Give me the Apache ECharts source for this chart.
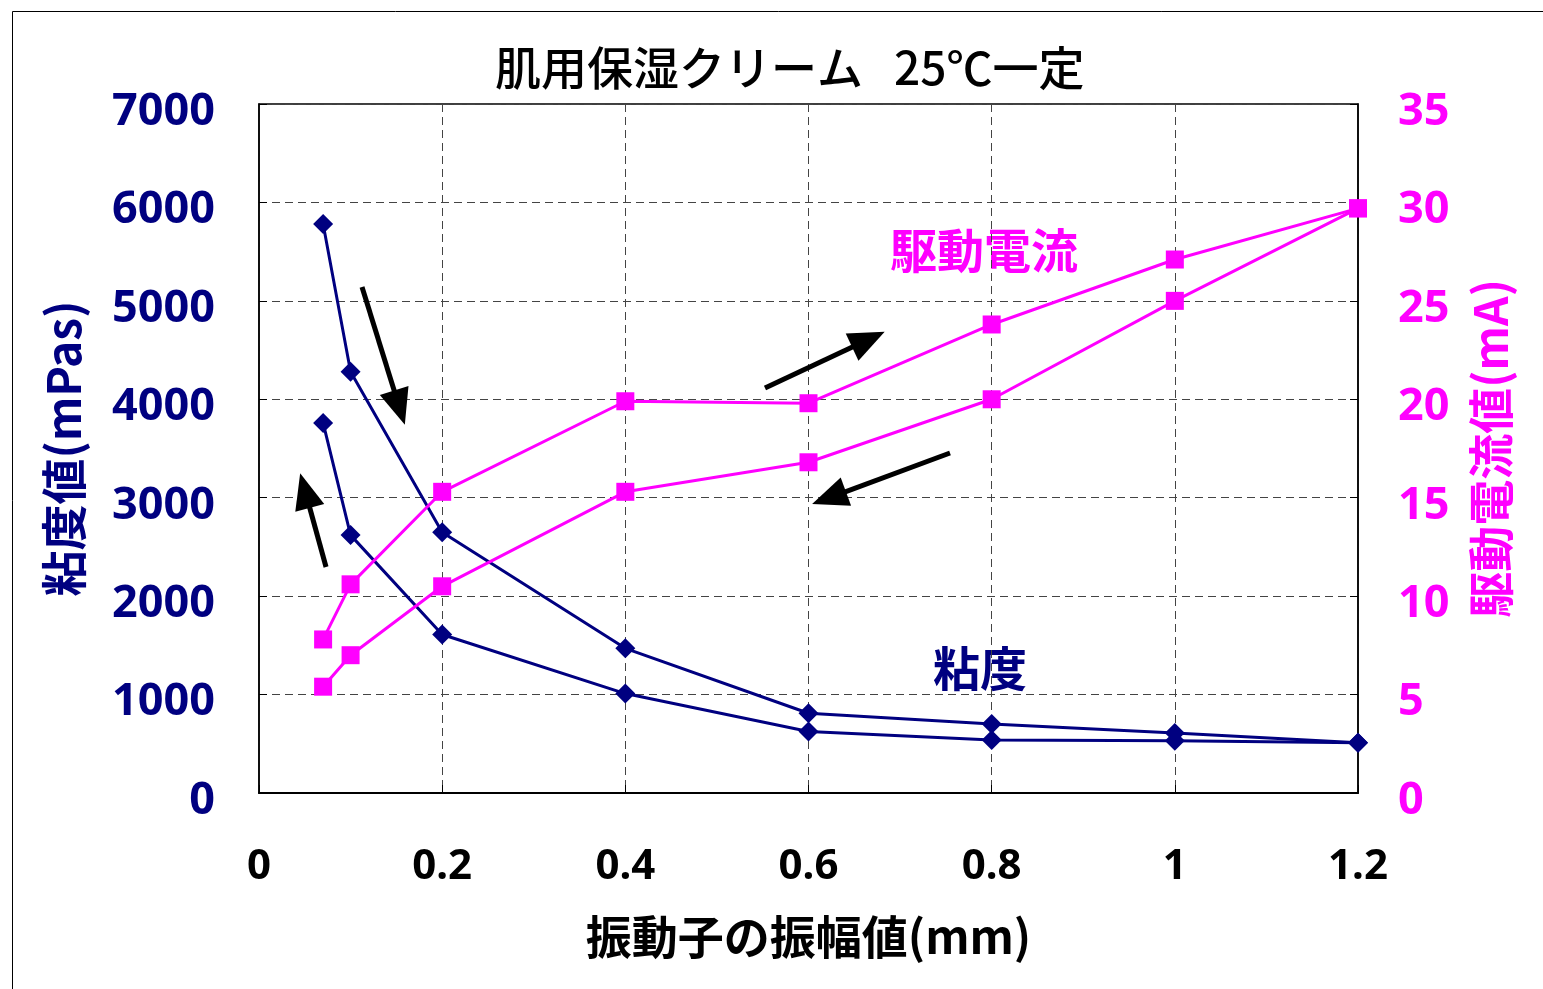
<!DOCTYPE html>
<html>
<head>
<meta charset="utf-8">
<script src="https://cdn.jsdelivr.net/npm/echarts@6/dist/echarts.min.js"></script>
<style>
  html, body { margin: 0; padding: 0; background: #fff; }
  #chart { width: 1543px; height: 989px; }
</style>
</head>
<body>
<div id="chart"></div>
<script>
// Vibrator amplitude (mm)
const amplitude = [0.07, 0.1, 0.2, 0.4, 0.6, 0.8, 1.0, 1.2];
// Viscosity (mPas): amplitude increasing / decreasing
const viscosityRising  = [5780, 4280, 2650, 1470, 810, 700, 610, 510];
const viscosityFalling = [3760, 2620, 1610, 1010, 625, 538, 530, 510];
// Drive current (mA): amplitude increasing / decreasing
const currentRising  = [7.8, 10.6, 15.3, 19.9, 19.8, 23.8, 27.1, 29.7];
const currentFalling = [5.4, 7.0, 10.5, 15.3, 16.8, 20.0, 25.0, 29.7];
// Direction arrows, [amplitude, viscosity] from tail to head
const arrows = [
  [[0.1125, 5141], [0.1534, 3915]],
  [[0.0732, 2296], [0.0502, 3073]],
  [[0.5525, 4115], [0.6654, 4608]],
  [[0.7545, 3454], [0.6224, 2999]]
];

const NAVY = '#000080';
const MAGENTA = '#FF00FF';
const CJK = '"Noto Sans CJK JP", "Noto Sans", sans-serif';
const NUM = '"Noto Sans", "DejaVu Sans", sans-serif';

const pairs = (xs, ys) => xs.map((x, i) => [x, ys[i]]);
const plain = v => String(v);

const chart = echarts.init(document.getElementById('chart'));

const gridLine = { show: true, lineStyle: { color: '#444', type: [8, 5], width: 1 } };

const viscSeries = (name, ys) => ({
  name, type: 'line', yAxisIndex: 0,
  data: pairs(amplitude, ys),
  symbol: 'diamond', symbolSize: 20,
  itemStyle: { color: NAVY },
  lineStyle: { color: NAVY, width: 3 },
  z: 3
});
const currSeries = (name, ys) => ({
  name, type: 'line', yAxisIndex: 1,
  data: pairs(amplitude, ys),
  symbol: 'rect', symbolSize: 18,
  itemStyle: { color: MAGENTA },
  lineStyle: { color: MAGENTA, width: 3 },
  z: 4
});

// value labels sit slightly below their tick
const yLabel = color => ({
  margin: 44, fontFamily: NUM, fontSize: 45, fontWeight: 'bold', color,
  formatter: plain, verticalAlign: 'top', lineHeight: 16
});

chart.setOption({
  animation: false,
  backgroundColor: '#fff',
  title: {
    text: '肌用保湿クリーム   25℃一定',
    left: 490, top: 40,
    textStyle: { fontFamily: CJK, fontSize: 46, fontWeight: 500, color: '#000' }
  },
  grid: {
    left: 259, right: 185, top: 104, bottom: 196,
    show: true, borderColor: '#000', borderWidth: 1.5
  },
  xAxis: {
    type: 'value', min: 0, max: 1.2, interval: 0.2,
    name: '振動子の振幅値(mm)', nameLocation: 'middle', nameGap: 121,
    nameTextStyle: { fontFamily: CJK, fontSize: 46, fontWeight: 'bold', color: '#000' },
    axisLine: { show: true, onZero: false, lineStyle: { color: '#000', width: 2 } },
    axisTick: { show: true, inside: true, length: 8, lineStyle: { color: '#000' } },
    axisLabel: { margin: 53, fontFamily: NUM, fontSize: 42, fontWeight: 'bold', color: '#000' },
    splitLine: gridLine
  },
  yAxis: [{
    type: 'value', min: 0, max: 7000, interval: 1000, position: 'left',
    name: '粘度値(mPas)', nameLocation: 'middle', nameGap: 172, nameRotate: 90,
    nameTextStyle: { fontFamily: CJK, fontSize: 46, fontWeight: 'bold', color: NAVY },
    axisLine: { show: true, lineStyle: { color: '#000', width: 1.5 } },
    axisTick: { show: true, inside: true, length: 8, lineStyle: { color: '#000' } },
    axisLabel: yLabel(NAVY),
    splitLine: gridLine
  }, {
    type: 'value', min: 0, max: 35, interval: 5, position: 'right',
    name: '駆動電流値(mA)', nameLocation: 'middle', nameGap: 110, nameRotate: 90,
    nameTextStyle: { fontFamily: CJK, fontSize: 46, fontWeight: 'bold', color: MAGENTA },
    axisLine: { show: true, lineStyle: { color: '#000', width: 1.5 } },
    axisTick: { show: true, inside: true, length: 8, lineStyle: { color: '#000' } },
    axisLabel: Object.assign(yLabel(MAGENTA), { margin: 40 }),
    splitLine: { show: false }
  }],
  series: [
    viscSeries('粘度(増加)', viscosityRising),
    viscSeries('粘度(減少)', viscosityFalling),
    currSeries('駆動電流(増加)', currentRising),
    currSeries('駆動電流(減少)', currentFalling),
    {
      name: 'arrows', type: 'line', yAxisIndex: 0, data: [], z: 5,
      markLine: {
        silent: true, animation: false,
        symbol: ['none', 'triangle'], symbolSize: [30, 36],
        label: { show: false },
        lineStyle: { color: '#000', width: 5, type: 'solid' },
        itemStyle: { color: '#000' },
        data: arrows.map(a => [{ coord: a[0] }, { coord: a[1] }])
      }
    }
  ],
  graphic: [
    {
      type: 'rect', left: 10, top: 9, silent: true,
      shape: { width: 1560, height: 1000 },
      style: { fill: 'none', stroke: '#000', lineWidth: 1 }
    },
    {
      type: 'text', left: 890, top: 227, silent: true,
      style: { text: '駆動電流', fill: MAGENTA, font: 'bold 47px ' + CJK }
    },
    {
      type: 'text', left: 933, top: 645, silent: true,
      style: { text: '粘度', fill: NAVY, font: 'bold 47px ' + CJK }
    }
  ]
});
</script>
</body>
</html>
